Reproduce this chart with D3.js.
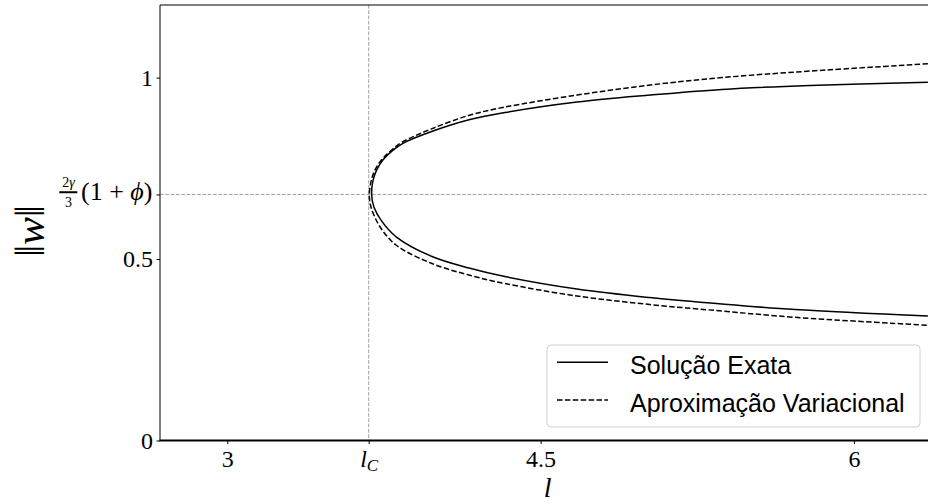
<!DOCTYPE html>
<html>
<head>
<meta charset="utf-8">
<script src="https://cdn.jsdelivr.net/npm/d3@7/dist/d3.min.js"></script>
<style>
  html, body { margin: 0; padding: 0; background: #fff; }
  svg { display: block; }
  .serif { font-family: "Liberation Serif", "DejaVu Serif", serif; }
</style>
</head>
<body>
<script>
// ---- data ----
const lC = 3.677;          // critical length l_C
const wStar = 0.678;       // 2γ/3 (1+φ)

const xTicks = [3, lC, 4.5, 6];
const xTickLabels = ["3", "lC", "4.5", "6"];
const yTicks = [0, 0.5, wStar, 1];
const yTickLabels = ["0", "0.5", "frac", "1"];

// Solução Exata: upper branch (right→vertex) then lower branch (vertex→right)
const exataL = [6.354, 5.789, 5.368, 5.023, 4.674, 4.329, 4.162, 3.985, 3.841, 3.788, 3.745, 3.715, 3.698, 3.691,
                3.702, 3.736, 3.810, 3.980, 4.157, 4.329, 4.674, 5.023, 5.368, 5.718, 6.354];
const exataW = [0.987, 0.9785, 0.9675, 0.9518, 0.9325, 0.9036, 0.8843, 0.8526, 0.8187, 0.7975, 0.7727, 0.7452, 0.7176, 0.678,
                0.6433, 0.6074, 0.5606, 0.5069, 0.4752, 0.4518, 0.4174, 0.3939, 0.376, 0.3609, 0.343];

// Aproximação Variacional
const aproxL = [6.354, 5.789, 5.368, 5.023, 4.674, 4.329, 4.162, 3.975, 3.834, 3.781, 3.738, 3.707, 3.690, 3.680,
                3.688, 3.731, 3.808, 3.980, 4.157, 4.329, 4.674, 5.023, 5.368, 5.718, 6.354];
const aproxW = [1.038, 1.0179, 1.000, 0.9793, 0.9518, 0.9187, 0.8967, 0.858, 0.8209, 0.7975, 0.7727, 0.7452, 0.7176, 0.678,
                0.6433, 0.589, 0.5386, 0.4876, 0.4559, 0.4325, 0.3981, 0.3747, 0.3567, 0.3394, 0.3174];

const legendLabels = ["Solução Exata", "Aproximação Variacional"];

// ---- layout ----
const W = 928, H = 504;
const mLeft = 160, mRight = 930, mTop = 5, mBottom = 440.5;

const svg = d3.select("body").append("svg").attr("width", W).attr("height", H);

const x = d3.scaleLinear().domain([2.678, 6.364]).range([mLeft, mRight]);
const y = d3.scaleLinear().domain([0, 1.2]).range([mBottom, mTop]);

svg.append("defs").append("clipPath").attr("id", "clip")
  .append("rect").attr("x", mLeft).attr("y", mTop).attr("width", mRight - mLeft).attr("height", mBottom - mTop);

// reference lines
const g = svg.append("g").attr("clip-path", "url(#clip)");
g.append("line").attr("x1", x(lC)).attr("x2", x(lC)).attr("y1", mTop).attr("y2", mBottom)
  .attr("stroke", "#a0a0a0").attr("stroke-width", 1).attr("stroke-dasharray", "3.7,1.6");
g.append("line").attr("x1", mLeft).attr("x2", mRight).attr("y1", y(wStar)).attr("y2", y(wStar))
  .attr("stroke", "#a0a0a0").attr("stroke-width", 1).attr("stroke-dasharray", "3.7,1.6");

const line = d3.line().x(d => x(d[0])).y(d => y(d[1])).curve(d3.curveCatmullRom.alpha(0.5));
const exata = exataL.map((l, i) => [l, exataW[i]]);
const aprox = aproxL.map((l, i) => [l, aproxW[i]]);

g.append("path").attr("d", line(exata)).attr("fill", "none").attr("stroke", "#000").attr("stroke-width", 1.5);
g.append("path").attr("d", line(aprox)).attr("fill", "none").attr("stroke", "#000").attr("stroke-width", 1.5)
  .attr("stroke-dasharray", "5.5,2.4");

// axes
const xAxis = svg.append("g").attr("transform", `translate(0,${mBottom})`)
  .call(d3.axisBottom(x).tickValues(xTicks).tickSize(3.5).tickPadding(6).tickFormat((d, i) => xTickLabels[i]));
xAxis.select(".domain").remove();
xAxis.selectAll("line").attr("stroke", "#000").attr("stroke-width", 1);
xAxis.selectAll("text").attr("class", "serif").style("font-size", "24px").attr("fill", "#000");
xAxis.selectAll("text").filter((d, i) => i === 1).each(function () {
  const t = d3.select(this).text("");
  t.append("tspan").style("font-style", "italic").text("l");
  t.append("tspan").style("font-style", "italic").style("font-size", "17px").attr("dy", "0.25em").text("C");
});

const yAxis = svg.append("g").attr("transform", `translate(${mLeft},0)`)
  .call(d3.axisLeft(y).tickValues(yTicks).tickSize(3.5).tickPadding(3.5).tickFormat((d, i) => yTickLabels[i]));
yAxis.select(".domain").remove();
yAxis.selectAll("line").attr("stroke", "#000").attr("stroke-width", 1);
yAxis.selectAll("text").attr("class", "serif").style("font-size", "24px").attr("fill", "#000");
yAxis.selectAll(".tick").filter(d => d === wStar).each(function () {
  const tg = d3.select(this);
  tg.select("text").remove();
  tg.append("text").attr("class", "serif").attr("x", -7.5).attr("y", 5.5).attr("text-anchor", "end")
    .style("font-size", "26px").attr("fill", "#000")
    .html('(1 + <tspan font-style="italic">ϕ</tspan>)');
  tg.append("text").attr("class", "serif").attr("x", -91.5).attr("y", -7.5).attr("text-anchor", "middle")
    .style("font-size", "14px").attr("fill", "#000")
    .html('2<tspan font-style="italic">γ</tspan>');
  tg.append("line").attr("x1", -100.7).attr("x2", -82.7).attr("y1", -2.7).attr("y2", -2.7)
    .attr("stroke", "#000").attr("stroke-width", 2);
  tg.append("text").attr("class", "serif").attr("x", -91.5).attr("y", 12.3).attr("text-anchor", "middle")
    .style("font-size", "14px").attr("fill", "#000").text("3");
});

// spines
svg.append("line").attr("x1", mLeft).attr("x2", mLeft).attr("y1", mTop).attr("y2", mBottom)
  .attr("stroke", "#000").attr("stroke-width", 1);
svg.append("line").attr("x1", mLeft).attr("x2", W).attr("y1", mTop).attr("y2", mTop)
  .attr("stroke", "#000").attr("stroke-width", 1);
svg.append("line").attr("x1", mLeft - 0.5).attr("x2", W).attr("y1", mBottom).attr("y2", mBottom)
  .attr("stroke", "#000").attr("stroke-width", 2);

// axis labels
svg.append("text").attr("class", "serif").attr("x", (x(4.5) + 7)).attr("y", 497)
  .attr("text-anchor", "middle").style("font-size", "28px").style("font-style", "italic").text("l");
svg.append("text").attr("class", "serif")
  .attr("transform", `translate(44,${231}) rotate(-90)`)
  .attr("text-anchor", "middle").style("font-size", "42px")
  .html('‖<tspan font-style="italic">w</tspan>‖');

// legend
const lg = svg.append("g");
lg.append("rect").attr("x", 547).attr("y", 345).attr("width", 373).attr("height", 82).attr("rx", 4)
  .attr("fill", "#fff").attr("fill-opacity", 0.8).attr("stroke", "#d0d0d0").attr("stroke-width", 1);
const legY = [362.3, 400];
legendLabels.forEach((lab, i) => {
  const ln = lg.append("line").attr("x1", 557).attr("x2", 608).attr("y1", legY[i]).attr("y2", legY[i])
    .attr("stroke", "#000").attr("stroke-width", 1.5);
  if (i === 1) ln.attr("stroke-dasharray", "5.5,2.4");
  lg.append("text").attr("x", 630).attr("y", legY[i] + 12)
    .style("font-family", "'Liberation Sans', Arial, sans-serif").style("font-size", "25px").attr("fill", "#000")
    .text(lab);
});
</script>
</body>
</html>
